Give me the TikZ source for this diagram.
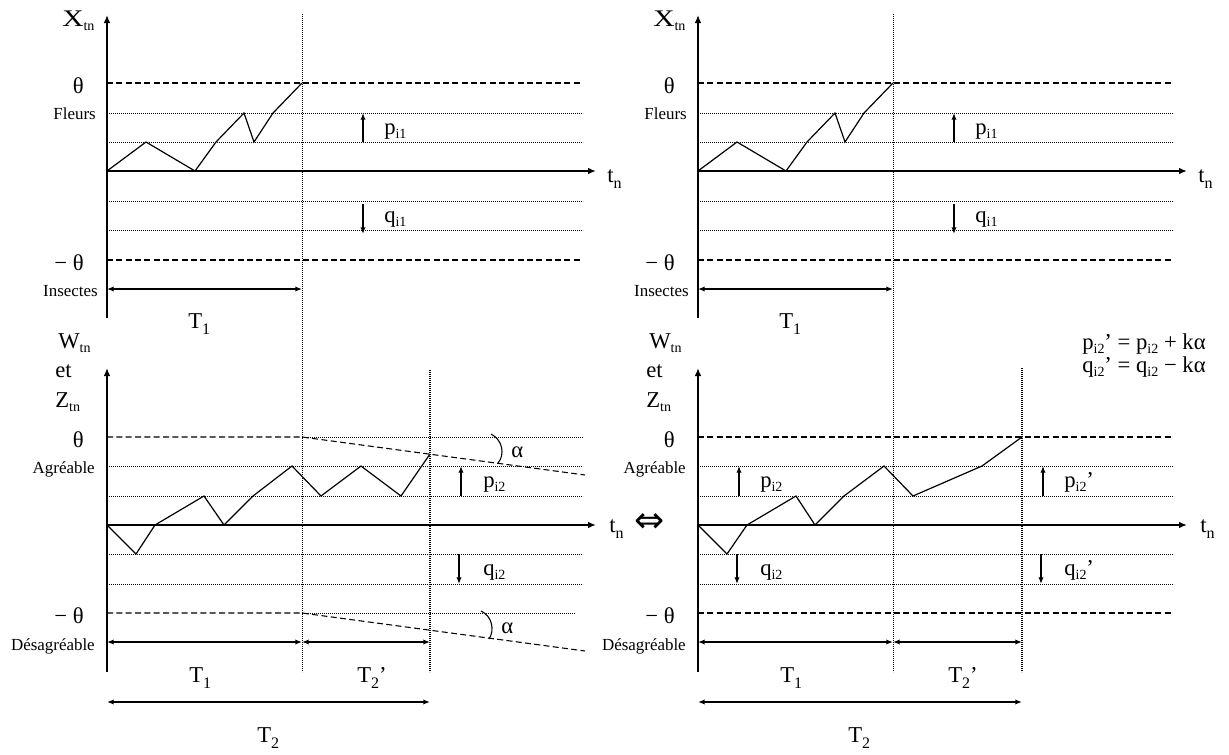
\documentclass[tikz,border=0pt]{standalone}
\usepackage{fontspec}
\setmainfont{Liberation Serif}
\newfontfamily\djv{DejaVu Sans}
\usetikzlibrary{arrows.meta}
\newcommand\lsub[1]{\raisebox{-3.5pt}{\fontsize{10.5}{10.5}\selectfont #1}}
\newcommand\tsub[1]{\raisebox{-5pt}{\fontsize{12}{12}\selectfont #1}}
\begin{document}
\begin{tikzpicture}[x=0.75pt,y=-0.75pt,
 lab/.style={inner sep=0pt,font=\fontsize{17}{20}\selectfont},
 sm/.style={inner sep=0pt,font=\fontsize{12.7}{14}\selectfont},
 ax/.style={line width=1.9pt,-{Latex[length=6pt,width=5pt]}},
 dimar/.style={line width=1.4pt,{Latex[length=5pt,width=4pt]}-{Latex[length=5pt,width=4pt]}},
 pq/.style={line width=1.4pt,-{Latex[length=5pt,width=4pt]}},
 dsh/.style={line width=0.8pt,dash pattern=on 4.5pt off 2.5pt},
 dotl/.style={line width=0.7pt,dash pattern=on 0.7pt off 0.8pt},
 vdot/.style={line width=0.7pt,dash pattern=on 0.7pt off 0.8pt},
 vdotb/.style={line width=1.1pt,dash pattern=on 0.8pt off 0.7pt},
 walk/.style={line width=0.9pt},
]
\useasboundingbox (0,0) rectangle (1229,754);

% ---------- top panels (identical) and common bottom labels ----------
\foreach \s/\o in {L/0,R/591}{
\begin{scope}[shift={(\o,0)}]
 % top panel
 \draw[dsh] (107,83) -- (583,83);
 \draw[dotl] (107,113) -- (583,113);
 \draw[dotl] (107,142) -- (583,142);
 \draw[dotl] (107,201) -- (583,201);
 \draw[dotl] (107,230) -- (583,230);
 \draw[dsh] (107,260) -- (583,260);
 \draw[vdot] (302,14) -- (302,672);
 \coordinate (Ya\s) at (107,318);
 \coordinate (Yb\s) at (107,15);
 \coordinate (Xa\s) at (107,171);
 \coordinate (Xb\s) at (596,171);
 \draw[ax] (Ya\s) -- (Yb\s);
 \draw[ax] (Xa\s) -- (Xb\s);
 \draw[walk] (107,171) -- (146,142) -- (195,171) -- (216,142) -- (244,113)
   -- (254,142) -- (273,113) -- (302,83);
 \draw[pq] (363,142) -- (363,113);
 \draw[pq] (363,204) -- (363,234);
 \coordinate (Ta\s) at (107,289);
 \coordinate (Tb\s) at (302,289);
 \draw[dimar] (Ta\s) -- (Tb\s);
 \node[lab,anchor=base west] (X\s) at (62,26) {\scalebox{1.3}[1.05]{X}\lsub{tn}};
 \node[lab,anchor=base east] (th\s) at (84,93) {θ};
 \node[sm,anchor=base east] (fl\s) at (96,119) {Fleurs};
 \node[lab,anchor=base east] (mth\s) at (84,270) {− θ};
 \node[sm,anchor=base east] (in\s) at (98,296) {Insectes};
 \node[lab,anchor=base west] (tn\s) at (607,182) {t\tsub{n}};
 \node[lab,anchor=base west] (p\s) at (384,134) {p\lsub{i1}};
 \node[lab,anchor=base west] (q\s) at (384,222) {q\lsub{i1}};
 \node[lab,anchor=base west] (T\s) at (188,328) {T\tsub{1}};
 % bottom panel common parts
 \coordinate (Yc\s) at (107,672);
 \coordinate (Yd\s) at (107,368);
 \coordinate (Xc\s) at (107,525);
 \coordinate (Xd\s) at (596,525);
 \node[lab,anchor=base west] (W\s) at (58,348) {W\lsub{tn}};
 \node[lab,anchor=base west] (et\s) at (55,377) {et};
 \node[lab,anchor=base west] (Z\s) at (55,407) {Z\lsub{tn}};
 \node[lab,anchor=base east] (bth\s) at (84,447) {θ};
 \node[sm,anchor=base east] (ag\s) at (95,473) {Agréable};
 \node[lab,anchor=base east] (bmth\s) at (84,623) {− θ};
 \node[sm,anchor=base east] (de\s) at (95,650) {Désagréable};
 \node[lab,anchor=base west] (btn\s) at (609,532) {t\tsub{n}};
 \node[lab,anchor=base west] (bT\s) at (189,682) {T\tsub{1}};
 \node[lab,anchor=base west] (bTp\s) at (357,682) {T\tsub{2}’};
 \node[lab,anchor=base west] (bTT\s) at (257,742) {T\tsub{2}};
 \coordinate (Da\s) at (107,642);
 \coordinate (Db\s) at (302,642);
 \coordinate (Dc\s) at (107,702);
\end{scope}}

% ---------- bottom-left panel ----------
\draw[dsh] (107,437) -- (302,437) -- (585,475);
\draw[dotl] (302,437) -- (583,437);
\draw[dotl] (107,466) -- (583,466);
\draw[dotl] (107,496) -- (583,496);
\draw[dotl] (107,554) -- (583,554);
\draw[dotl] (107,584) -- (583,584);
\draw[dsh] (107,613) -- (302,613) -- (585,651);
\draw[dotl] (302,613) -- (575,613);
\coordinate (VL1) at (430,370);
\coordinate (VL2) at (430,672);
\draw[vdotb] (VL1) -- (VL2);
\draw[ax] (YcL) -- (YdL);
\draw[ax] (XcL) -- (XdL);
\draw[walk] (107,525) -- (136,554) -- (155,525) -- (204,496) -- (224,525)
  -- (253,496) -- (292,466) -- (321,496) -- (361,466) -- (401,496) -- (430,454);
\draw[pq] (461,496) -- (461,466);
\draw[pq] (459,554) -- (459,584);
\node[lab,anchor=base west] (pL2) at (483,487) {p\lsub{i2}};
\node[lab,anchor=base west] (qL2) at (483,575) {q\lsub{i2}};
\draw[line width=0.8pt] (491,434) .. controls (503,440) and (505,455) .. (498,463);
\draw[line width=0.8pt] (481,611) .. controls (492,616) and (495,630) .. (489,639);
\node[lab,anchor=base west] (a1) at (511,457) {α};
\node[lab,anchor=base west] (a2) at (501,633) {α};
\coordinate (EL) at (430,642);
\coordinate (EL2) at (430,702);
\draw[dimar] (DaL) -- (DbL);
\draw[dimar] (DbL) -- (EL);
\draw[dimar] (DcL) -- (EL2);

% ---------- bottom-right panel ----------
\draw[dsh] (698,437) -- (1174,437);
\draw[dotl] (698,466) -- (1174,466);
\draw[dotl] (698,496) -- (1174,496);
\draw[dotl] (698,554) -- (1174,554);
\draw[dotl] (698,584) -- (1174,584);
\draw[dsh] (698,613) -- (1174,613);
\coordinate (VR1) at (1022,368);
\coordinate (VR2) at (1022,672);
\draw[vdotb] (VR1) -- (VR2);
\draw[ax] (YcR) -- (YdR);
\draw[ax] (XcR) -- (XdR);
\draw[walk] (698,525) -- (727,554) -- (747,525) -- (796,496) -- (815,525)
  -- (844,496) -- (884,466) -- (913,496) -- (982,466) -- (1022,437);
\draw[pq] (739,496) -- (739,466);
\draw[pq] (737,554) -- (737,584);
\draw[pq] (1043,496) -- (1043,466);
\draw[pq] (1041,554) -- (1041,584);
\node[lab,anchor=base west] (pR2) at (760,487) {p\lsub{i2}};
\node[lab,anchor=base west] (qR2) at (760,575) {q\lsub{i2}};
\node[lab,anchor=base west] (pR2p) at (1064,487) {p\lsub{i2}’};
\node[lab,anchor=base west] (qR2p) at (1064,575) {q\lsub{i2}’};
\coordinate (ER) at (1022,642);
\coordinate (ER2) at (1022,702);
\draw[dimar] (DaR) -- (DbR);
\draw[dimar] (DbR) -- (ER);
\draw[dimar] (DcR) -- (ER2);

% ---------- formulas and equivalence ----------
\node[lab,anchor=base west] (f1) at (1082,349) {p\lsub{i2}’ = p\lsub{i2} + kα};
\node[lab,anchor=base west] (f2) at (1082,372) {q\lsub{i2}’ = q\lsub{i2} − kα};
\node[inner sep=0pt,font=\djv\fontsize{27}{29}\selectfont] (eq) at (650,523) {⇔};
\end{tikzpicture}
\end{document}
